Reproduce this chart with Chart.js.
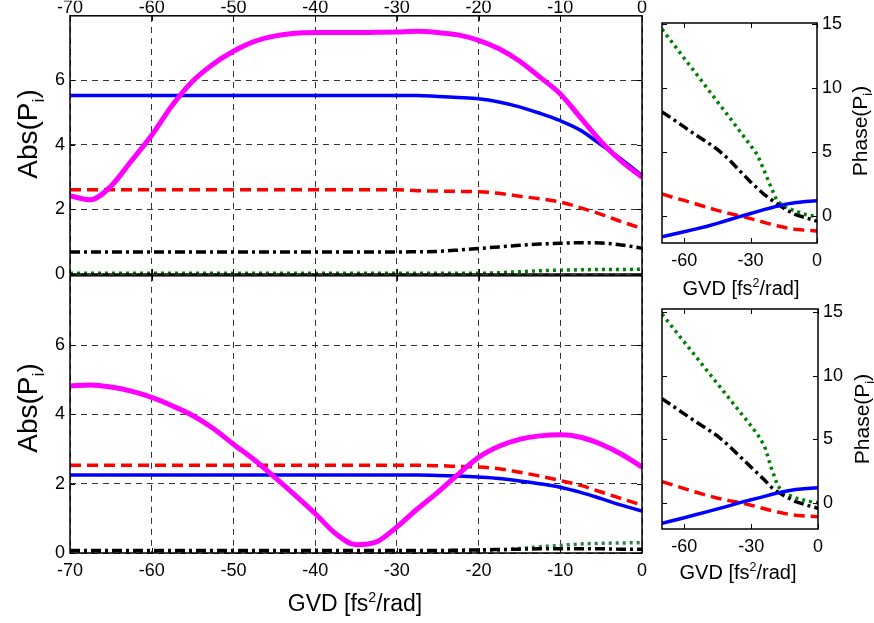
<!DOCTYPE html>
<html>
<head>
<meta charset="utf-8">
<script src="https://cdn.jsdelivr.net/npm/chart.js@4.4.1/dist/chart.umd.min.js"></script>
<style>
  body { margin: 0; background: #fff; width: 874px; height: 623px; overflow: hidden; position: relative;
         font-family: "Liberation Sans", Arial, sans-serif; }
  canvas { position: absolute; }
  .lbl { position: absolute; white-space: nowrap; color: #000; line-height: 1; }
  .rot { transform: translate(-50%, -50%) rotate(-90deg); }
  .hor { transform: translate(-50%, -50%); }
  sub, sup { font-size: 62%; line-height: 0; }
</style>
</head>
<body>
<canvas id="absTop" width="660" height="290" style="left:0;top:0"></canvas>
<canvas id="absBot" width="660" height="363" style="left:0;top:260px"></canvas>
<canvas id="phaseTop" width="274" height="275" style="left:600px;top:0"></canvas>
<canvas id="phaseBot" width="274" height="280" style="left:600px;top:290px"></canvas>

<div class="lbl rot" style="left:28px;top:134px;font-size:28px">Abs(P<sub>i</sub>)</div>
<div class="lbl rot" style="left:28px;top:408px;font-size:28px">Abs(P<sub>i</sub>)</div>
<div class="lbl hor" style="left:355px;top:603px;font-size:23px">GVD [fs<sup>2</sup>/rad]</div>
<div class="lbl rot" style="left:859px;top:131px;font-size:21px">Phase(P<sub>i</sub>)</div>
<div class="lbl rot" style="left:861px;top:419px;font-size:21px">Phase(P<sub>i</sub>)</div>
<div class="lbl hor" style="left:741px;top:288px;font-size:20px">GVD [fs<sup>2</sup>/rad]</div>
<div class="lbl hor" style="left:738px;top:572px;font-size:20px">GVD [fs<sup>2</sup>/rad]</div>

<script>
// GVD axis (fs^2/rad) for the |P_i| panels
const gvd = [-70, -67.5, -65, -62.5, -60, -57.5, -55, -52.5, -50, -47.5, -45, -42.5, -40, -37.5, -35,
             -32.5, -30, -27.5, -25, -22.5, -20, -17.5, -15, -12.5, -10, -7.5, -5, -2.5, 0];

// upper panel |P_i|
const absTopMagenta = [2.42, 2.3, 2.72, 3.5, 4.3, 5.22, 5.97, 6.5, 6.9, 7.2, 7.37, 7.46, 7.48, 7.48, 7.48,
                       7.49, 7.5, 7.52, 7.48, 7.41, 7.24, 6.98, 6.6, 6.1, 5.58, 4.84, 4.1, 3.49, 3.0];
const absTopBlue = [5.53, 5.53, 5.53, 5.53, 5.53, 5.53, 5.53, 5.53, 5.53, 5.53, 5.53, 5.53, 5.53, 5.53, 5.53,
                    5.53, 5.53, 5.53, 5.5, 5.47, 5.43, 5.33, 5.18, 4.98, 4.75, 4.45, 4.0, 3.55, 3.05];
const absTopRed = [2.61, 2.61, 2.61, 2.61, 2.61, 2.61, 2.61, 2.61, 2.61, 2.61, 2.61, 2.61, 2.61, 2.61, 2.61,
                   2.61, 2.61, 2.58, 2.57, 2.56, 2.55, 2.5, 2.41, 2.33, 2.23, 2.05, 1.85, 1.62, 1.41];
const absTopBlack = [0.68, 0.68, 0.68, 0.68, 0.68, 0.68, 0.68, 0.68, 0.68, 0.68, 0.68, 0.68, 0.68, 0.68, 0.68,
                     0.68, 0.68, 0.69, 0.7, 0.74, 0.79, 0.84, 0.89, 0.93, 0.95, 0.97, 0.96, 0.9, 0.8];
const absTopGreen = [0.02, 0.02, 0.02, 0.02, 0.02, 0.02, 0.02, 0.02, 0.02, 0.02, 0.02, 0.02, 0.02, 0.02, 0.02,
                     0.02, 0.02, 0.02, 0.02, 0.02, 0.02, 0.04, 0.07, 0.1, 0.12, 0.13, 0.14, 0.14, 0.15];

// lower panel |P_i|
const absBotMagenta = [4.82, 4.85, 4.79, 4.67, 4.49, 4.25, 3.97, 3.6, 3.14, 2.7, 2.2, 1.68, 1.14, 0.56, 0.24,
                       0.32, 0.75, 1.27, 1.75, 2.27, 2.76, 3.08, 3.28, 3.38, 3.41, 3.34, 3.14, 2.85, 2.48];
const absBotBlue = [2.25, 2.25, 2.25, 2.25, 2.25, 2.25, 2.25, 2.25, 2.25, 2.25, 2.25, 2.25, 2.25, 2.25, 2.25,
                    2.25, 2.25, 2.25, 2.24, 2.22, 2.19, 2.15, 2.08, 2.0, 1.9, 1.75, 1.57, 1.38, 1.21];
const absBotRed = [2.53, 2.53, 2.53, 2.53, 2.53, 2.53, 2.53, 2.53, 2.53, 2.53, 2.53, 2.53, 2.53, 2.53, 2.53,
                   2.53, 2.53, 2.53, 2.52, 2.5, 2.48, 2.43, 2.33, 2.22, 2.09, 1.95, 1.76, 1.57, 1.38];
const absBotBlack = [0.07, 0.07, 0.07, 0.07, 0.07, 0.07, 0.07, 0.07, 0.07, 0.07, 0.07, 0.07, 0.07, 0.07, 0.07,
                     0.07, 0.07, 0.07, 0.07, 0.08, 0.09, 0.1, 0.11, 0.12, 0.12, 0.12, 0.12, 0.11, 0.11];
const absBotGreen = [0.02, 0.02, 0.02, 0.02, 0.02, 0.02, 0.02, 0.02, 0.02, 0.02, 0.02, 0.02, 0.02, 0.02, 0.02,
                     0.02, 0.02, 0.02, 0.02, 0.02, 0.04, 0.08, 0.13, 0.18, 0.22, 0.26, 0.28, 0.29, 0.3];

// GVD axis for the phase panels
const phaseGvd = [-70, -65, -60, -55, -50, -45, -40, -35, -30, -27, -24, -21, -18, -14, -10, -5, 0];

const phaseTopGreen = [14.57, 13.45, 12.3, 11.2, 10.05, 8.92, 7.8, 6.65, 5.5, 4.8, 3.6, 2.35, 1.15, 0.68, 0.4, 0.12, -0.05];
const phaseTopBlack = [8.12, 7.55, 6.95, 6.35, 5.8, 5.2, 4.45, 3.55, 2.66, 2.18, 1.7, 1.32, 0.96, 0.49, 0.13, -0.14, -0.4];
const phaseTopRed = [1.72, 1.45, 1.22, 0.96, 0.7, 0.44, 0.22, 0.03, -0.2, -0.34, -0.49, -0.63, -0.76, -0.91, -1.02, -1.11, -1.17];
const phaseTopBlue = [-1.62, -1.42, -1.22, -1.02, -0.81, -0.57, -0.31, -0.04, 0.2, 0.35, 0.5, 0.63, 0.77, 0.93, 1.04, 1.13, 1.2];

const phaseBotGreen = [14.85, 13.75, 12.65, 11.55, 10.45, 9.35, 8.25, 7.15, 6.05, 5.35, 4.48, 2.78, 1.3, 0.68, 0.4, 0.15, 0];
const phaseBotBlack = [8.2, 7.6, 7.0, 6.4, 5.85, 5.25, 4.5, 3.65, 2.8, 2.3, 1.8, 1.25, 0.85, 0.45, 0.1, -0.18, -0.42];
const phaseBotRed = [1.67, 1.4, 1.13, 0.86, 0.6, 0.37, 0.18, 0.02, -0.18, -0.32, -0.46, -0.6, -0.72, -0.86, -0.96, -1.04, -1.08];
const phaseBotBlue = [-1.6, -1.38, -1.16, -0.93, -0.7, -0.47, -0.23, 0.02, 0.25, 0.38, 0.52, 0.66, 0.79, 0.94, 1.05, 1.14, 1.2];

// tick labels
const gvdTicks = [-70, -60, -50, -40, -30, -20, -10, 0];
const absTicks = [0, 2, 4, 6];
const phaseGvdTicks = [-60, -30, 0];
const phaseTicks = [0, 5, 10, 15];

const FONT = "'Liberation Sans', Arial, sans-serif";

function pts(xs, ys) {
  return xs.map((x, i) => ({ x: x, y: ys[i] }));
}

function line(xs, ys, color, width, dash, smooth) {
  return {
    data: pts(xs, ys),
    borderColor: color,
    borderWidth: width,
    borderDash: dash,
    borderCapStyle: 'butt',
    pointRadius: 0,
    fill: false,
    tension: 0,
    cubicInterpolationMode: smooth ? 'monotone' : 'default'
  };
}

// matlab style box with inward ticks on all four sides
const boxPlugin = {
  id: 'matlabBox',
  afterDraw(chart) {
    const { ctx, chartArea: a, scales } = chart;
    ctx.save();
    ctx.strokeStyle = '#000';
    ctx.setLineDash([]);
    ctx.lineWidth = 1;
    ctx.beginPath();
    scales.x.ticks.forEach(t => {
      const px = Math.round(scales.x.getPixelForValue(t.value)) + 0.5;
      ctx.moveTo(px, a.top); ctx.lineTo(px, a.top + 5);
      ctx.moveTo(px, a.bottom); ctx.lineTo(px, a.bottom - 5);
    });
    scales.y.ticks.forEach(t => {
      const py = Math.round(scales.y.getPixelForValue(t.value)) + 0.5;
      ctx.moveTo(a.left, py); ctx.lineTo(a.left + 5, py);
      ctx.moveTo(a.right, py); ctx.lineTo(a.right - 5, py);
    });
    ctx.stroke();
    ctx.lineWidth = 1.5;
    ctx.strokeRect(a.left, a.top, a.right - a.left, a.bottom - a.top);
    ctx.restore();
  }
};

function fixedTicks(list) {
  return s => { s.ticks = list.map(v => ({ value: v })); };
}

function absChart(id, top, series) {
  const canvas = document.getElementById(id);
  return new Chart(canvas, {
    type: 'line',
    data: {
      datasets: [
        line(gvd, series[0], '#ff00ff', 5, [], true),
        line(gvd, series[1], '#0000ff', 3.5, [], true),
        line(gvd, series[2], '#ff0000', 3.5, [11, 6], true),
        line(gvd, series[3], '#000000', 3.5, [10, 4, 3, 4], true),
        line(gvd, series[4], series[5], 3.5, [3, 4], true)
      ]
    },
    options: {
      responsive: false,
      animation: false,
      events: [],
      layout: { padding: top ? { left: 0, top: 0, right: 18, bottom: 16 } : { left: 0, top: 14, right: 18, bottom: 0 } },
      plugins: { legend: { display: false }, tooltip: { enabled: false } },
      scales: {
        x: {
          type: 'linear', position: top ? 'top' : 'bottom', min: -70, max: 0,
          afterBuildTicks: fixedTicks(gvdTicks),
          afterFit: s => { s.height = top ? 15 : 70; },
          grid: { color: '#333', lineWidth: 1, drawTicks: false },
          border: { display: false, dash: [6, 5] },
          ticks: { color: '#000', font: { family: FONT, size: 18 }, padding: top ? -3 : 7,
                   maxRotation: 0, autoSkip: false, callback: v => String(v) }
        },
        y: {
          type: 'linear', position: 'left', min: 0, max: 8,
          afterBuildTicks: fixedTicks(absTicks),
          afterFit: s => { s.width = 70; },
          grid: { color: '#333', lineWidth: 1, drawTicks: false },
          border: { display: false, dash: [6, 5] },
          ticks: { color: '#000', font: { family: FONT, size: 18 }, padding: 5, callback: v => String(v) }
        }
      }
    },
    plugins: [boxPlugin]
  });
}

function phaseChart(id, pad, yMin, yMax, yWidth, xHeight, series) {
  const canvas = document.getElementById(id);
  return new Chart(canvas, {
    type: 'line',
    data: {
      datasets: [
        line(phaseGvd, series[3], '#0000ff', 3.5, [], false),
        line(phaseGvd, series[2], '#ff0000', 3.5, [11, 6], false),
        line(phaseGvd, series[1], '#000000', 3.5, [10, 4, 3, 4], false),
        line(phaseGvd, series[0], '#008000', 3.5, [3, 4], false)
      ]
    },
    options: {
      responsive: false,
      animation: false,
      events: [],
      layout: { padding: pad },
      plugins: { legend: { display: false }, tooltip: { enabled: false } },
      scales: {
        x: {
          type: 'linear', position: 'bottom', min: -70, max: 0,
          afterBuildTicks: fixedTicks(phaseGvdTicks),
          afterFit: s => { s.height = xHeight; },
          grid: { display: false, drawTicks: false },
          border: { display: false },
          ticks: { color: '#000', font: { family: FONT, size: 18 }, padding: 7,
                   maxRotation: 0, autoSkip: false, callback: v => String(v) }
        },
        y: {
          type: 'linear', position: 'right', min: yMin, max: yMax,
          afterBuildTicks: fixedTicks(phaseTicks),
          afterFit: s => { s.width = yWidth; },
          grid: { display: false, drawTicks: false },
          border: { display: false },
          ticks: { color: '#000', font: { family: FONT, size: 18 }, padding: 5, callback: v => String(v) }
        }
      }
    },
    plugins: [boxPlugin]
  });
}

absChart('absTop', true, [absTopMagenta, absTopBlue, absTopRed, absTopBlack, absTopGreen, '#008000']);
absChart('absBot', false, [absBotMagenta, absBotBlue, absBotRed, absBotBlack, absBotGreen, '#2e7d4f']);
phaseChart('phaseTop', { left: 62, top: 23, right: 0, bottom: 0 }, -2.1, 15.05, 57, 32,
           [phaseTopGreen, phaseTopBlack, phaseTopRed, phaseTopBlue]);
phaseChart('phaseBot', { left: 62, top: 19, right: 0, bottom: 0 }, -2.05, 15.25, 56, 41,
           [phaseBotGreen, phaseBotBlack, phaseBotRed, phaseBotBlue]);
</script>
</body>
</html>
